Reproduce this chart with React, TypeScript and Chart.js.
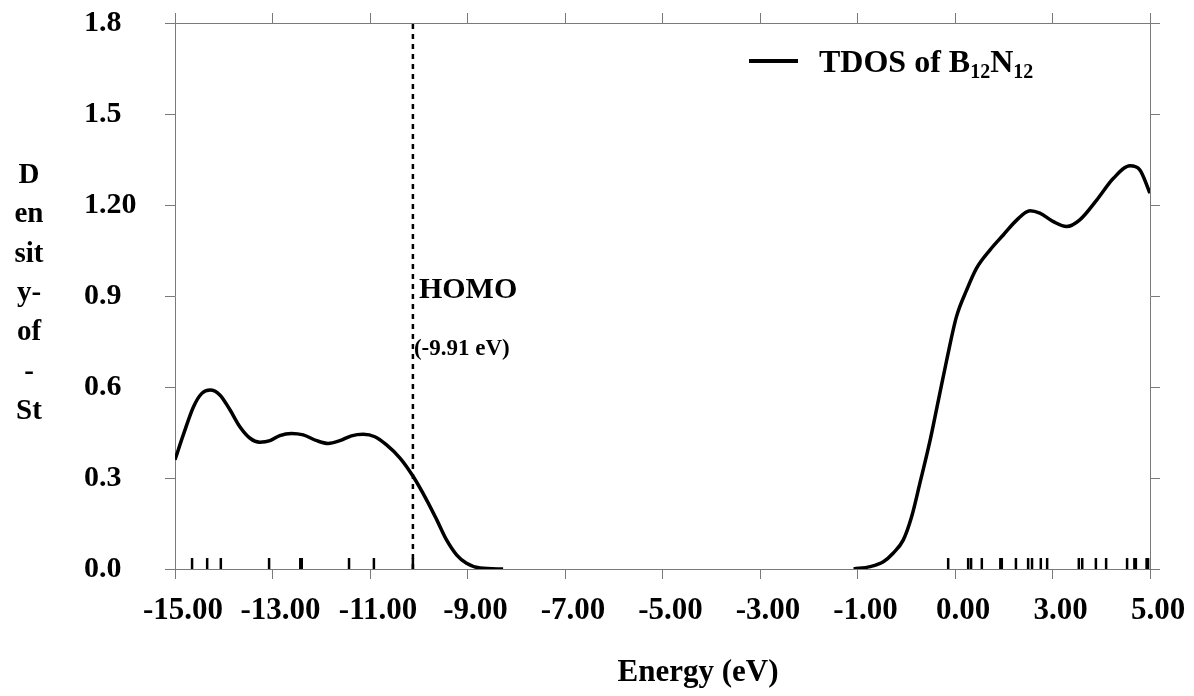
import React, { useEffect, useRef } from "react";
import { Chart, registerables } from "chart.js";

Chart.register(...registerables);

// ---- data ----
const xTickValues = [-15, -13, -11, -9, -7, -5, -3, -1, 1, 3, 5];
const xTickLabels = ["-15.00", "-13.00", "-11.00", "-9.00", "-7.00", "-5.00", "-3.00", "-1.00", "0.00", "3.00", "5.00"];
const yTickValues = [0, 0.3, 0.6, 0.9, 1.2, 1.5, 1.8];
const yTickLabels = ["0.0", "0.3", "0.6", "0.9", "1.20", "1.5", "1.8"];

const valenceEnergy = [-15.0, -14.83, -14.62, -14.45, -14.28, -14.08, -13.87, -13.67, -13.46, -13.26, -13.05, -12.85, -12.61, -12.37, -12.09, -11.86, -11.62, -11.38, -11.14, -10.9, -10.66, -10.38, -10.11, -9.84, -9.63, -9.43, -9.22, -9.02, -8.74, -8.27];
const valenceDos = [0.36, 0.442, 0.535, 0.579, 0.59, 0.574, 0.524, 0.469, 0.431, 0.418, 0.423, 0.44, 0.447, 0.442, 0.423, 0.414, 0.423, 0.439, 0.444, 0.436, 0.409, 0.365, 0.304, 0.228, 0.162, 0.096, 0.046, 0.019, 0.003, 0.0];

const conductionEnergy = [-1.08, -0.74, -0.47, -0.27, -0.06, 0.11, 0.28, 0.49, 0.66, 0.83, 1.03, 1.24, 1.44, 1.72, 1.99, 2.27, 2.54, 2.74, 3.02, 3.29, 3.56, 3.91, 4.25, 4.59, 4.79, 5.0];
const conductionDos = [0.0, 0.008, 0.024, 0.052, 0.096, 0.172, 0.283, 0.425, 0.557, 0.689, 0.832, 0.92, 0.991, 1.052, 1.101, 1.151, 1.181, 1.173, 1.145, 1.129, 1.151, 1.217, 1.288, 1.329, 1.316, 1.239];

const levelEnergies = [-14.65, -14.34, -14.06, -13.07, -12.43, -12.4, -11.43, -10.92, -10.12, 0.86, 1.27, 1.33, 1.55, 1.93, 1.96, 2.25, 2.5, 2.58, 2.76, 2.89, 3.54, 3.61, 3.89, 4.1, 4.53, 4.68, 4.71, 4.93, 4.96];
const levelMarkValue = 0.018;

const homoEnergy = -10.12;
const homoLabel = "HOMO";
const homoValueLabel = "(-9.91 eV)";
const xTitle = "Energy (eV)";
const yTitleLines = ["D", "en", "sit", "y-", "of", "-", "St"];
const legendParts: [string, boolean][] = [["TDOS of B", false], ["12", true], ["N", false], ["12", true]];

const FONT = "'Liberation Serif', 'Times New Roman', serif";
const AXIS_GRAY = "#7a7a7a";

const textPlugin = {
  id: "textPlugin",
  afterDraw(chart: any) {
    const ctx = chart.ctx as CanvasRenderingContext2D;
    const xs = chart.scales.x;
    ctx.save();
    ctx.fillStyle = "#000";
    ctx.textBaseline = "alphabetic";

    // y-axis title (stacked)
    ctx.font = `bold 29px ${FONT}`;
    ctx.textAlign = "center";
    yTitleLines.forEach((t, i) => ctx.fillText(t, 29, 183 + i * 39.3));

    // x-axis title
    ctx.font = `bold 31px ${FONT}`;
    ctx.fillText(xTitle, 698, 681);

    // HOMO annotation
    const hx = xs.getPixelForValue(homoEnergy);
    ctx.textAlign = "left";
    ctx.font = `bold 30px ${FONT}`;
    ctx.fillText(homoLabel, hx + 6, 298);
    ctx.font = `bold 23px ${FONT}`;
    ctx.fillText(homoValueLabel, hx + 1, 355);

    // legend
    ctx.strokeStyle = "#000";
    ctx.lineWidth = 4;
    ctx.beginPath();
    ctx.moveTo(749, 61);
    ctx.lineTo(798, 61);
    ctx.stroke();
    let x = 819;
    legendParts.forEach(([t, sub]) => {
      ctx.font = sub ? `bold 20px ${FONT}` : `bold 32px ${FONT}`;
      ctx.fillText(t, x, sub ? 78 : 72);
      x += ctx.measureText(t).width;
    });
    ctx.restore();
  },
};

export default function App() {
  const ref = useRef<HTMLCanvasElement>(null);
  useEffect(() => {
    if (!ref.current) return;
    const setX = (s: any) => { s.ticks = xTickValues.map((v) => ({ value: v })); };
    const setY = (s: any) => { s.ticks = yTickValues.map((v) => ({ value: v })); };
    const grid = { drawOnChartArea: false, drawTicks: true, tickLength: 10, color: AXIS_GRAY, lineWidth: 1 };
    const border = { display: true, color: AXIS_GRAY, width: 1 };
    const chart = new Chart(ref.current, {
      type: "line",
      data: {
        datasets: [
          {
            label: "valence",
            data: valenceEnergy.map((e, i) => ({ x: e, y: valenceDos[i] })),
            borderColor: "#000",
            borderWidth: 3.5,
            pointRadius: 0,
            cubicInterpolationMode: "monotone",
            xAxisID: "x",
            yAxisID: "y",
          },
          {
            label: "conduction",
            data: conductionEnergy.map((e, i) => ({ x: e, y: conductionDos[i] })),
            borderColor: "#000",
            borderWidth: 3.5,
            pointRadius: 0,
            cubicInterpolationMode: "monotone",
            xAxisID: "x",
            yAxisID: "y",
          },
          {
            label: "homo",
            data: [{ x: homoEnergy, y: 0 }, { x: homoEnergy, y: 1.8 }],
            borderColor: "#000",
            borderWidth: 2.5,
            borderDash: [5, 5],
            pointRadius: 0,
            xAxisID: "x",
            yAxisID: "y",
          },
          {
            label: "levels",
            data: levelEnergies.map((e) => ({ x: e, y: levelMarkValue })),
            showLine: false,
            pointStyle: "line",
            pointRotation: 90,
            pointRadius: 5.5,
            pointBorderWidth: 2.5,
            pointBorderColor: "#000",
            pointBackgroundColor: "#000",
            xAxisID: "x",
            yAxisID: "y",
          },
        ] as any,
      },
      options: {
        animation: false,
        responsive: false,
        devicePixelRatio: 1,
        layout: { padding: { left: 84, top: 0, right: 0, bottom: 0 } },
        plugins: { legend: { display: false }, tooltip: { enabled: false } },
        scales: {
          x: {
            type: "linear",
            position: "bottom",
            min: -15,
            max: 5,
            afterBuildTicks: setX,
            afterFit: (s: any) => { s.height = 127; },
            grid,
            border,
            ticks: {
              padding: 13,
              labelOffset: 8,
              maxRotation: 0,
              autoSkip: false,
              color: "#000",
              font: { family: FONT, size: 31, weight: "bold" },
              callback: (_v: any, i: number) => xTickLabels[i],
            },
          },
          x2: {
            type: "linear",
            axis: "x",
            position: "top",
            min: -15,
            max: 5,
            afterBuildTicks: setX,
            afterFit: (s: any) => { s.height = 23; },
            grid,
            border,
            ticks: { display: false },
          },
          y: {
            type: "linear",
            position: "left",
            min: 0,
            max: 1.8,
            afterBuildTicks: setY,
            afterFit: (s: any) => { s.width = 91; },
            grid,
            border,
            ticks: {
              crossAlign: "far",
              color: "#000",
              font: { family: FONT, size: 30, weight: "bold" },
              callback: (_v: any, i: number) => yTickLabels[i],
            },
          },
          y2: {
            type: "linear",
            axis: "y",
            position: "right",
            min: 0,
            max: 1.8,
            afterBuildTicks: setY,
            afterFit: (s: any) => { s.width = 44; },
            grid,
            border,
            ticks: { display: false },
          },
        } as any,
      },
      plugins: [textPlugin],
    });
    return () => chart.destroy();
  }, []);

  return (
    <div style={{ position: "fixed", left: 0, top: 0, width: 1194, height: 696, background: "#fff" }}>
      <canvas ref={ref} width={1194} height={696} style={{ display: "block" }} />
    </div>
  );
}
